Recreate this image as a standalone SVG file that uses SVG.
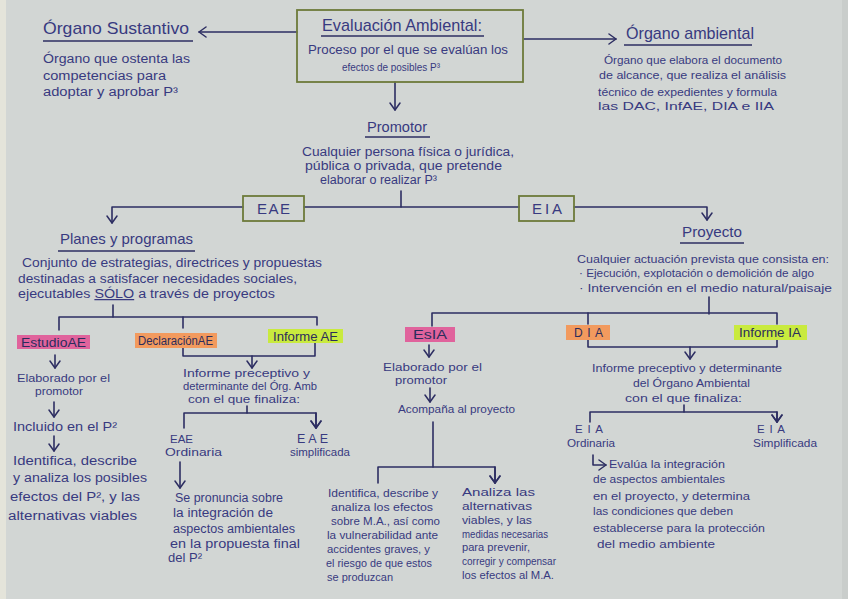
<svg xmlns="http://www.w3.org/2000/svg" width="848" height="599" viewBox="0 0 848 599">
<style>
.t{font-family:"Liberation Sans",Arial,sans-serif;fill:#383a80;}
.h1{font-size:17px;}
.h2{font-size:15px;}
.b{font-size:12.5px;}
.m{font-size:11.5px;}
.s{font-size:11px;}
.lbl{font-size:12px;fill:#2c2d5c;}
.ln{stroke:#2d2e62;stroke-width:1.6;fill:none;stroke-linecap:round;stroke-linejoin:round;}
.ul{stroke:#2d2e62;stroke-width:1.3;fill:none;}
.box{fill:none;stroke:#6d7b3a;stroke-width:1.8;}
.arr{marker-end:url(#ah);}
</style>
<defs>
<marker id="ah" viewBox="0 0 12 12" refX="10" refY="6" markerWidth="12" markerHeight="12" markerUnits="userSpaceOnUse" orient="auto">
<path d="M3,1 L10,6 L3,11" fill="none" stroke="#2d2e62" stroke-width="1.5" stroke-linecap="round" stroke-linejoin="round"/>
</marker>
</defs>
<rect x="0" y="0" width="848" height="599" fill="#d2d6d4"/>
<rect x="0" y="0" width="6" height="599" fill="#e4e4da"/>
<rect x="842" y="0" width="6" height="599" fill="#c9cdcb"/>

<g id="connectors">
<line class="ln arr" x1="297" y1="32" x2="199" y2="32"/>
<line class="ln arr" x1="524" y1="39" x2="616" y2="39"/>
<line class="ln arr" x1="395" y1="82" x2="395" y2="110"/>
<line class="ln" x1="401" y1="191" x2="401" y2="207"/>
<line class="ln" x1="304" y1="207" x2="519" y2="207"/>
<path class="ln arr" d="M243,207 H112 V223"/>
<path class="ln arr" d="M574,207 H707 V220"/>
<line class="ln" x1="113" y1="305" x2="113" y2="317"/>
<path class="ln" d="M59,330 V317 H317 V325"/>
<line class="ln" x1="183" y1="317" x2="183" y2="328"/>
<path class="ln" d="M183,348 V356 H315 V343"/>
<line class="ln arr" x1="252" y1="356" x2="252" y2="368"/>
<line class="ln arr" x1="55" y1="355" x2="55" y2="368"/>
<line class="ln arr" x1="54" y1="402" x2="54" y2="417"/>
<line class="ln arr" x1="54" y1="436" x2="54" y2="451"/>
<line class="ln" x1="247" y1="406" x2="247" y2="413"/>
<path class="ln arr" d="M184,428 V413 H316 V428"/>
<path class="ln arr" d="M316,413 V428"/>
<line class="ln arr" x1="180" y1="462" x2="180" y2="488"/>
<line class="ln" x1="709" y1="297" x2="709" y2="314"/>
<path class="ln" d="M432,326 V313 H777 V324"/>
<line class="ln" x1="588" y1="313" x2="588" y2="324"/>
<line class="ln arr" x1="429" y1="345" x2="429" y2="357"/>
<line class="ln arr" x1="430" y1="388" x2="430" y2="402"/>
<line class="ln" x1="433" y1="422" x2="433" y2="467"/>
<path class="ln arr" d="M378,483 V467 H495 V483"/>
<path class="ln arr" d="M495,467 V483"/>
<path class="ln" d="M588,340 V347 H777 V340"/>
<line class="ln arr" x1="690" y1="347" x2="690" y2="359"/>
<line class="ln" x1="684" y1="405" x2="684" y2="412"/>
<path class="ln arr" d="M590,422 V412 H777 V422"/>
<path class="ln arr" d="M777,412 V422"/>
<path class="ln arr" d="M593,455 V465 H606"/>
</g>

<g id="evaluacion-ambiental">
<rect class="box" x="297" y="10" width="226" height="72"/>
<text class="t h1" x="322" y="31" textLength="160" lengthAdjust="spacingAndGlyphs">Evaluación Ambiental:</text>
<line class="ul" x1="321" y1="36" x2="484" y2="36"/>
<text class="t b" x="308" y="54" textLength="200" lengthAdjust="spacingAndGlyphs">Proceso por el que se evalúan los</text>
<text class="t m" x="342" y="71" textLength="98" lengthAdjust="spacingAndGlyphs">efectos de posibles P³</text>
</g>

<g id="organo-sustantivo">
<text class="t h1" x="43" y="34" textLength="146" lengthAdjust="spacingAndGlyphs">Órgano Sustantivo</text>
<line class="ul" x1="43" y1="41" x2="193" y2="41"/>
<text class="t b" x="43" y="63" textLength="147" lengthAdjust="spacingAndGlyphs">Órgano que ostenta las</text>
<text class="t b" x="43" y="80" textLength="123" lengthAdjust="spacingAndGlyphs">competencias para</text>
<text class="t b" x="43" y="96" textLength="135" lengthAdjust="spacingAndGlyphs">adoptar y aprobar P³</text>
</g>

<g id="organo-ambiental">
<text class="t h1" x="626" y="39" textLength="128" lengthAdjust="spacingAndGlyphs">Órgano ambiental</text>
<line class="ul" x1="624" y1="45" x2="752" y2="45"/>
<text class="t m" x="604" y="64" textLength="178" lengthAdjust="spacingAndGlyphs">Órgano que elabora el documento</text>
<text class="t m" x="599" y="79" textLength="187" lengthAdjust="spacingAndGlyphs">de alcance, que realiza el análisis</text>
<text class="t m" x="598" y="96" textLength="179" lengthAdjust="spacingAndGlyphs">técnico de expedientes y formula</text>
<text class="t m" x="598" y="110" textLength="176" lengthAdjust="spacingAndGlyphs">las DAC, InfAE, DIA e IIA</text>
</g>

<g id="promotor">
<text class="t h2" x="367" y="132" textLength="60" lengthAdjust="spacingAndGlyphs">Promotor</text>
<line class="ul" x1="365" y1="137" x2="430" y2="137"/>
<text class="t b" x="302" y="156" textLength="212" lengthAdjust="spacingAndGlyphs">Cualquier persona física o jurídica,</text>
<text class="t b" x="305" y="170" textLength="197" lengthAdjust="spacingAndGlyphs">pública o privada, que pretende</text>
<text class="t b" x="320" y="184" textLength="117" lengthAdjust="spacingAndGlyphs">elaborar o realizar P³</text>
</g>

<g id="eae">
<rect class="box" x="243" y="196" width="61" height="25"/>
<text class="t h2" x="257" y="214" textLength="33" lengthAdjust="spacing">EAE</text>
</g>

<g id="eia">
<rect class="box" x="519" y="196" width="55" height="25"/>
<text class="t h2" x="532" y="214" textLength="30" lengthAdjust="spacing">EIA</text>
</g>

<g id="planes-y-programas">
<text class="t h2" x="60" y="244" textLength="133" lengthAdjust="spacingAndGlyphs">Planes y programas</text>
<line class="ul" x1="58" y1="251" x2="195" y2="251"/>
<text class="t b" x="22" y="267" textLength="300" lengthAdjust="spacingAndGlyphs">Conjunto de estrategias, directrices y propuestas</text>
<text class="t b" x="18" y="283" textLength="279" lengthAdjust="spacingAndGlyphs">destinadas a satisfacer necesidades sociales,</text>
<text class="t b" x="18" y="298" textLength="257" lengthAdjust="spacingAndGlyphs">ejecutables <tspan text-decoration="underline">SÓLO</tspan> a través de proyectos</text>
</g>

<g id="proyecto">
<text class="t h2" x="682" y="237" textLength="60" lengthAdjust="spacingAndGlyphs">Proyecto</text>
<line class="ul" x1="680" y1="243" x2="744" y2="243"/>
<text class="t m" x="577" y="263" textLength="252" lengthAdjust="spacingAndGlyphs">Cualquier actuación prevista que consista en:</text>
<text class="t m" x="579" y="277" textLength="235" lengthAdjust="spacingAndGlyphs">· Ejecución, explotación o demolición de algo</text>
<text class="t m" x="579" y="292" textLength="253" lengthAdjust="spacingAndGlyphs">· Intervención en el medio natural/paisaje</text>
</g>

<g id="estudio-ae">
<rect x="17" y="335" width="73" height="14" fill="#e0639c"/>
<text class="t lbl" x="21" y="347" textLength="65" lengthAdjust="spacingAndGlyphs">EstudioAE</text>
</g>
<g id="declaracion-ae">
<rect x="135" y="333" width="82" height="15" fill="#f29a5e"/>
<text class="t lbl" x="138" y="345" textLength="75" lengthAdjust="spacingAndGlyphs">DeclaraciónAE</text>
</g>
<g id="informe-ae">
<rect x="268" y="329" width="75" height="14" fill="#c9ea3e"/>
<text class="t lbl" x="273" y="341" textLength="65" lengthAdjust="spacingAndGlyphs">Informe AE</text>
</g>

<g id="estudio-ae-elaborado">
<text class="t m" x="17" y="382" textLength="93" lengthAdjust="spacingAndGlyphs">Elaborado por el</text>
<text class="t m" x="35" y="395" textLength="48" lengthAdjust="spacingAndGlyphs">promotor</text>
</g>
<g id="incluido-p2">
<text class="t b" x="13" y="431" textLength="104" lengthAdjust="spacingAndGlyphs">Incluido en el P²</text>
</g>
<g id="identifica-ae">
<text class="t b" x="13" y="465" textLength="124" lengthAdjust="spacingAndGlyphs">Identifica, describe</text>
<text class="t b" x="13" y="482" textLength="134" lengthAdjust="spacingAndGlyphs">y analiza los posibles</text>
<text class="t b" x="10" y="501" textLength="130" lengthAdjust="spacingAndGlyphs">efectos del P², y las</text>
<text class="t b" x="8" y="520" textLength="129" lengthAdjust="spacingAndGlyphs">alternativas viables</text>
</g>

<g id="informe-preceptivo-ae">
<text class="t m" x="183" y="377" textLength="127" lengthAdjust="spacingAndGlyphs">Informe preceptivo y</text>
<text class="t m" x="183" y="390" textLength="134" lengthAdjust="spacingAndGlyphs">determinante del Órg. Amb</text>
<text class="t m" x="188" y="403" textLength="112" lengthAdjust="spacingAndGlyphs">con el que finaliza:</text>
</g>
<g id="eae-ordinaria">
<text class="t m" x="170" y="443" textLength="23" lengthAdjust="spacingAndGlyphs">EAE</text>
<text class="t m" x="165" y="456" textLength="57" lengthAdjust="spacingAndGlyphs">Ordinaria</text>
</g>
<g id="eae-simplificada">
<text class="t b" x="297" y="443" textLength="31" lengthAdjust="spacing">EAE</text>
<text class="t m" x="290" y="456" textLength="60" lengthAdjust="spacingAndGlyphs">simplificada</text>
</g>
<g id="se-pronuncia">
<text class="t b" x="175" y="502" textLength="108" lengthAdjust="spacingAndGlyphs">Se pronuncia sobre</text>
<text class="t b" x="173" y="517" textLength="100" lengthAdjust="spacingAndGlyphs">la integración de</text>
<text class="t b" x="173" y="533" textLength="122" lengthAdjust="spacingAndGlyphs">aspectos ambientales</text>
<text class="t b" x="170" y="548" textLength="130" lengthAdjust="spacingAndGlyphs">en la propuesta final</text>
<text class="t b" x="168" y="562" textLength="34" lengthAdjust="spacingAndGlyphs">del P²</text>
</g>

<g id="esia">
<rect x="405" y="327" width="50" height="15" fill="#e0639c"/>
<text class="t lbl" x="413" y="339" textLength="34" lengthAdjust="spacingAndGlyphs">EsIA</text>
</g>
<g id="esia-elaborado">
<text class="t m" x="383" y="371" textLength="99" lengthAdjust="spacingAndGlyphs">Elaborado por el</text>
<text class="t m" x="395" y="384" textLength="52" lengthAdjust="spacingAndGlyphs">promotor</text>
</g>
<g id="acompana">
<text class="t m" x="398" y="413" textLength="117" lengthAdjust="spacingAndGlyphs">Acompaña al proyecto</text>
</g>
<g id="identifica-esia">
<text class="t s" x="328" y="497" textLength="110" lengthAdjust="spacingAndGlyphs">Identifica, describe y</text>
<text class="t s" x="331" y="511" textLength="102" lengthAdjust="spacingAndGlyphs">analiza los efectos</text>
<text class="t s" x="331" y="525" textLength="109" lengthAdjust="spacingAndGlyphs">sobre M.A., así como</text>
<text class="t s" x="327" y="539" textLength="111" lengthAdjust="spacingAndGlyphs">la vulnerabilidad ante</text>
<text class="t s" x="327" y="553" textLength="103" lengthAdjust="spacingAndGlyphs">accidentes graves, y</text>
<text class="t s" x="326" y="567" textLength="106" lengthAdjust="spacingAndGlyphs">el riesgo de que estos</text>
<text class="t s" x="327" y="581" textLength="66" lengthAdjust="spacingAndGlyphs">se produzcan</text>
</g>
<g id="analiza">
<text class="t s" x="462" y="496" textLength="73" lengthAdjust="spacingAndGlyphs">Analiza las</text>
<text class="t s" x="462" y="510" textLength="70" lengthAdjust="spacingAndGlyphs">alternativas</text>
<text class="t s" x="462" y="524" textLength="70" lengthAdjust="spacingAndGlyphs">viables, y las</text>
<text class="t s" x="462" y="538" textLength="86" lengthAdjust="spacingAndGlyphs">medidas necesarias</text>
<text class="t s" x="462" y="551" textLength="68" lengthAdjust="spacingAndGlyphs">para prevenir,</text>
<text class="t s" x="462" y="565" textLength="94" lengthAdjust="spacingAndGlyphs">corregir y compensar</text>
<text class="t s" x="462" y="579" textLength="92" lengthAdjust="spacingAndGlyphs">los efectos al M.A.</text>
</g>

<g id="dia">
<rect x="566" y="325" width="44" height="15" fill="#f29a5e"/>
<text class="t lbl" x="574" y="337" textLength="29" lengthAdjust="spacing">DIA</text>
</g>
<g id="informe-ia">
<rect x="734" y="325" width="73" height="15" fill="#c9ea3e"/>
<text class="t lbl" x="739" y="337" textLength="62" lengthAdjust="spacingAndGlyphs">Informe IA</text>
</g>
<g id="informe-preceptivo-ia">
<text class="t m" x="592" y="372" textLength="190" lengthAdjust="spacingAndGlyphs">Informe preceptivo y determinante</text>
<text class="t m" x="633" y="387" textLength="117" lengthAdjust="spacingAndGlyphs">del Órgano Ambiental</text>
<text class="t m" x="625" y="402" textLength="117" lengthAdjust="spacingAndGlyphs">con el que finaliza:</text>
</g>
<g id="eia-ordinaria">
<text class="t m" x="575" y="433" textLength="28" lengthAdjust="spacing">EIA</text>
<text class="t m" x="567" y="447" textLength="48" lengthAdjust="spacingAndGlyphs">Ordinaria</text>
</g>
<g id="eia-simplificada">
<text class="t m" x="757" y="433" textLength="28" lengthAdjust="spacing">EIA</text>
<text class="t m" x="753" y="447" textLength="64" lengthAdjust="spacingAndGlyphs">Simplificada</text>
</g>
<g id="evalua">
<text class="t m" x="609" y="468" textLength="116" lengthAdjust="spacingAndGlyphs">Evalúa la integración</text>
<text class="t m" x="593" y="483" textLength="132" lengthAdjust="spacingAndGlyphs">de aspectos ambientales</text>
<text class="t m" x="593" y="500" textLength="157" lengthAdjust="spacingAndGlyphs">en el proyecto, y determina</text>
<text class="t m" x="593" y="515" textLength="140" lengthAdjust="spacingAndGlyphs">las condiciones que deben</text>
<text class="t m" x="593" y="532" textLength="172" lengthAdjust="spacingAndGlyphs">establecerse para la protección</text>
<text class="t m" x="597" y="548" textLength="118" lengthAdjust="spacingAndGlyphs">del medio ambiente</text>
</g>
</svg>
